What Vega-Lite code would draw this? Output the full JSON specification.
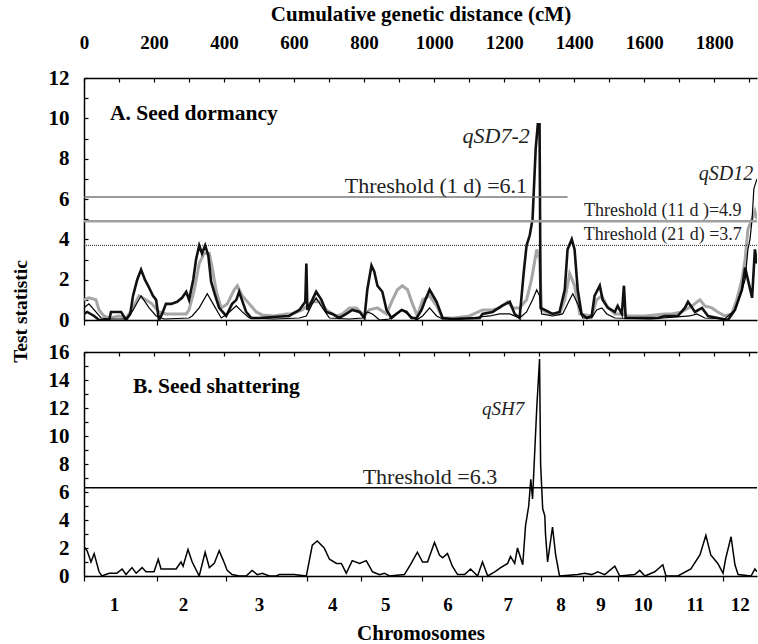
{
  "$schema": "https://vega.github.io/schema/vega-lite/v6.json",
  "background": "white",
  "padding": {"left": 10, "top": 3, "right": 0, "bottom": 0},
  "spacing": 32,
  "bounds": "flush",
  "config": {
    "font": "Liberation Serif",
    "view": {"stroke": null},
    "axis": {
      "grid": false, "domainColor": "black", "tickColor": "black", "labelColor": "black", "titleColor": "black",
      "labelFont": "Liberation Serif", "titleFont": "Liberation Serif", "labelFontWeight": "bold", "titleFontWeight": "bold",
      "labelFontSize": 19, "titleFontSize": 21, "domainWidth": 1.5, "tickWidth": 1.2
    }
  },
  "datasets": {
    "d1": [
      {"cm":0,"v":0.3},{"cm":9,"v":0.4},{"cm":29,"v":0.2},{"cm":43,"v":0},{"cm":72,"v":0},{"cm":77,"v":0.4},{"cm":106,"v":0.4},{"cm":120,"v":0},{"cm":132,"v":0.3},{"cm":140,"v":1.2},{"cm":152,"v":2.0},{"cm":163,"v":2.5},{"cm":174,"v":2.0},{"cm":186,"v":1.6},{"cm":197,"v":1.2},{"cm":206,"v":1.0},{"cm":214,"v":0},{"cm":223,"v":0.3},{"cm":234,"v":0.8},{"cm":249,"v":0.8},{"cm":266,"v":0.9},{"cm":280,"v":1.1},{"cm":292,"v":1.4},{"cm":300,"v":1.0},{"cm":312,"v":2.0},{"cm":320,"v":3.0},{"cm":329,"v":3.7},{"cm":337,"v":3.3},{"cm":346,"v":3.7},{"cm":355,"v":3.2},{"cm":363,"v":1.9},{"cm":375,"v":1.2},{"cm":386,"v":0.6},{"cm":406,"v":0.2},{"cm":423,"v":0.8},{"cm":435,"v":1.0},{"cm":443,"v":1.4},{"cm":455,"v":0.8},{"cm":463,"v":0.4},{"cm":478,"v":0.1},{"cm":500,"v":0.1},{"cm":540,"v":0.15},{"cm":586,"v":0.2},{"cm":595,"v":0.3},{"cm":615,"v":0.5},{"cm":632,"v":0.9},{"cm":635,"v":2.8},{"cm":638,"v":0.5},{"cm":652,"v":1.0},{"cm":663,"v":1.4},{"cm":678,"v":1.0},{"cm":692,"v":0.4},{"cm":709,"v":0.3},{"cm":729,"v":0.1},{"cm":749,"v":0.3},{"cm":766,"v":0.5},{"cm":787,"v":0.4},{"cm":801,"v":0.1},{"cm":809,"v":1.5},{"cm":821,"v":2.7},{"cm":829,"v":2.4},{"cm":838,"v":1.7},{"cm":852,"v":1.4},{"cm":864,"v":0.5},{"cm":878,"v":0.1},{"cm":892,"v":0.3},{"cm":907,"v":0.5},{"cm":921,"v":0.4},{"cm":935,"v":0.1},{"cm":950,"v":0.1},{"cm":964,"v":0.5},{"cm":975,"v":1.0},{"cm":987,"v":1.5},{"cm":1007,"v":0.9},{"cm":1024,"v":0.1},{"cm":1052,"v":0.05},{"cm":1130,"v":0.1},{"cm":1138,"v":0.3},{"cm":1167,"v":0.4},{"cm":1193,"v":0.7},{"cm":1216,"v":0.9},{"cm":1230,"v":0.3},{"cm":1244,"v":0.1},{"cm":1256,"v":2.4},{"cm":1264,"v":3.7},{"cm":1273,"v":4.2},{"cm":1281,"v":5.0},{"cm":1290,"v":8.5},{"cm":1296,"v":9.7},{"cm":1301,"v":9.7},{"cm":1304,"v":0.6},{"cm":1316,"v":0.5},{"cm":1338,"v":0.3},{"cm":1358,"v":0.4},{"cm":1373,"v":1.5},{"cm":1381,"v":3.5},{"cm":1393,"v":4.0},{"cm":1401,"v":3.5},{"cm":1410,"v":1.5},{"cm":1421,"v":0.3},{"cm":1436,"v":0.1},{"cm":1450,"v":0.2},{"cm":1458,"v":1.2},{"cm":1473,"v":1.7},{"cm":1481,"v":1.0},{"cm":1496,"v":0.6},{"cm":1516,"v":0.4},{"cm":1524,"v":0.7},{"cm":1536,"v":0.3},{"cm":1542,"v":1.7},{"cm":1547,"v":0.1},{"cm":1587,"v":0.1},{"cm":1639,"v":0.1},{"cm":1659,"v":0.2},{"cm":1696,"v":0.2},{"cm":1716,"v":0.6},{"cm":1725,"v":0.9},{"cm":1745,"v":0.4},{"cm":1765,"v":0.6},{"cm":1782,"v":0.2},{"cm":1810,"v":0.1},{"cm":1839,"v":0.0},{"cm":1859,"v":0.5},{"cm":1879,"v":1.5},{"cm":1888,"v":2.6},{"cm":1896,"v":2.0},{"cm":1908,"v":1.1},{"cm":1916,"v":3.5},{"cm":1922,"v":2.8}
    ],
    "d11": [
      {"cm":0,"v":1.0},{"cm":14,"v":1.1},{"cm":34,"v":1.0},{"cm":43,"v":0.5},{"cm":57,"v":0.2},{"cm":72,"v":0.1},{"cm":100,"v":0.2},{"cm":120,"v":0.1},{"cm":137,"v":0.5},{"cm":157,"v":1.2},{"cm":177,"v":1.0},{"cm":194,"v":0.8},{"cm":214,"v":0.4},{"cm":234,"v":0.3},{"cm":272,"v":0.3},{"cm":292,"v":0.3},{"cm":300,"v":0.5},{"cm":315,"v":1.5},{"cm":329,"v":2.8},{"cm":343,"v":3.3},{"cm":358,"v":3.3},{"cm":366,"v":2.6},{"cm":378,"v":1.4},{"cm":392,"v":0.6},{"cm":409,"v":0.8},{"cm":429,"v":1.5},{"cm":438,"v":1.7},{"cm":452,"v":1.2},{"cm":472,"v":0.8},{"cm":492,"v":0.4},{"cm":509,"v":0.25},{"cm":543,"v":0.2},{"cm":578,"v":0.3},{"cm":595,"v":0.3},{"cm":623,"v":0.5},{"cm":652,"v":0.9},{"cm":672,"v":0.9},{"cm":692,"v":0.5},{"cm":721,"v":0.2},{"cm":738,"v":0.3},{"cm":758,"v":0.6},{"cm":778,"v":0.6},{"cm":801,"v":0.2},{"cm":815,"v":0.5},{"cm":838,"v":0.6},{"cm":864,"v":0.3},{"cm":881,"v":1.0},{"cm":895,"v":1.5},{"cm":909,"v":1.7},{"cm":924,"v":1.5},{"cm":938,"v":0.8},{"cm":952,"v":0.2},{"cm":967,"v":1.0},{"cm":987,"v":1.2},{"cm":1007,"v":0.7},{"cm":1024,"v":0.1},{"cm":1058,"v":0.1},{"cm":1101,"v":0.2},{"cm":1138,"v":0.5},{"cm":1167,"v":0.5},{"cm":1187,"v":0.6},{"cm":1210,"v":0.9},{"cm":1224,"v":0.6},{"cm":1244,"v":0.6},{"cm":1264,"v":1.0},{"cm":1278,"v":2.0},{"cm":1293,"v":3.5},{"cm":1301,"v":3.0},{"cm":1307,"v":0.5},{"cm":1330,"v":0.3},{"cm":1358,"v":0.3},{"cm":1373,"v":1.0},{"cm":1387,"v":2.3},{"cm":1401,"v":1.7},{"cm":1416,"v":0.3},{"cm":1450,"v":0.2},{"cm":1464,"v":1.0},{"cm":1479,"v":1.2},{"cm":1493,"v":0.7},{"cm":1516,"v":0.3},{"cm":1536,"v":0.3},{"cm":1553,"v":0.2},{"cm":1602,"v":0.2},{"cm":1659,"v":0.3},{"cm":1679,"v":0.3},{"cm":1707,"v":0.4},{"cm":1736,"v":0.7},{"cm":1759,"v":1.0},{"cm":1773,"v":0.7},{"cm":1793,"v":0.6},{"cm":1810,"v":0.4},{"cm":1830,"v":0.2},{"cm":1850,"v":0.3},{"cm":1864,"v":1.0},{"cm":1879,"v":2.0},{"cm":1888,"v":3.0},{"cm":1896,"v":4.5},{"cm":1908,"v":5.0},{"cm":1916,"v":5.4},{"cm":1922,"v":5.0}
    ],
    "d21": [
      {"cm":0,"v":0.6},{"cm":14,"v":0.8},{"cm":34,"v":0.4},{"cm":49,"v":0.1},{"cm":72,"v":0.05},{"cm":120,"v":0.05},{"cm":137,"v":0.4},{"cm":163,"v":1.2},{"cm":186,"v":0.6},{"cm":206,"v":0.2},{"cm":229,"v":0.05},{"cm":300,"v":0.1},{"cm":309,"v":0.2},{"cm":329,"v":0.6},{"cm":352,"v":1.3},{"cm":372,"v":0.7},{"cm":392,"v":0.1},{"cm":409,"v":0.3},{"cm":435,"v":0.7},{"cm":452,"v":0.4},{"cm":472,"v":0.1},{"cm":543,"v":0.05},{"cm":615,"v":0.1},{"cm":635,"v":0.2},{"cm":652,"v":0.8},{"cm":663,"v":1.1},{"cm":681,"v":0.6},{"cm":701,"v":0.1},{"cm":758,"v":0.05},{"cm":795,"v":0.1},{"cm":809,"v":0.4},{"cm":824,"v":0.3},{"cm":844,"v":0.0},{"cm":872,"v":0.05},{"cm":881,"v":0.2},{"cm":895,"v":0.35},{"cm":909,"v":0.5},{"cm":924,"v":0.3},{"cm":950,"v":0.0},{"cm":967,"v":0.2},{"cm":987,"v":0.6},{"cm":1007,"v":0.2},{"cm":1024,"v":0.05},{"cm":1101,"v":0.1},{"cm":1159,"v":0.2},{"cm":1187,"v":0.3},{"cm":1216,"v":0.3},{"cm":1244,"v":0.1},{"cm":1264,"v":0.4},{"cm":1281,"v":1.0},{"cm":1293,"v":1.5},{"cm":1301,"v":1.2},{"cm":1307,"v":0.3},{"cm":1338,"v":0.2},{"cm":1367,"v":0.3},{"cm":1387,"v":1.0},{"cm":1396,"v":1.3},{"cm":1410,"v":0.8},{"cm":1424,"v":0.1},{"cm":1450,"v":0.1},{"cm":1464,"v":0.5},{"cm":1479,"v":0.6},{"cm":1493,"v":0.3},{"cm":1516,"v":0.1},{"cm":1616,"v":0.05},{"cm":1730,"v":0.2},{"cm":1750,"v":0.3},{"cm":1773,"v":0.1},{"cm":1830,"v":0.05},{"cm":1859,"v":0.5},{"cm":1879,"v":1.5},{"cm":1888,"v":2.0},{"cm":1896,"v":3.5},{"cm":1902,"v":4.0},{"cm":1908,"v":5.0},{"cm":1913,"v":6.5},{"cm":1922,"v":7.0}
    ],
    "sh": [
      {"cm":0,"v":2.1},{"cm":9,"v":1.8},{"cm":20,"v":1.0},{"cm":29,"v":1.6},{"cm":43,"v":0.3},{"cm":51,"v":0},{"cm":72,"v":0.2},{"cm":94,"v":0.2},{"cm":109,"v":0.5},{"cm":120,"v":0.1},{"cm":137,"v":0.6},{"cm":149,"v":0.2},{"cm":166,"v":0.6},{"cm":177,"v":0.3},{"cm":200,"v":0.3},{"cm":212,"v":1.2},{"cm":220,"v":0.5},{"cm":243,"v":0.5},{"cm":263,"v":0.5},{"cm":277,"v":1.0},{"cm":283,"v":0.7},{"cm":297,"v":1.9},{"cm":309,"v":1.0},{"cm":329,"v":0},{"cm":346,"v":1.7},{"cm":358,"v":0.6},{"cm":372,"v":0.9},{"cm":386,"v":1.8},{"cm":398,"v":1.1},{"cm":409,"v":0.4},{"cm":423,"v":0.1},{"cm":443,"v":0},{"cm":463,"v":0},{"cm":480,"v":0.4},{"cm":495,"v":0.1},{"cm":509,"v":0.2},{"cm":529,"v":0},{"cm":549,"v":0},{"cm":558,"v":0.1},{"cm":600,"v":0.1},{"cm":635,"v":0},{"cm":652,"v":2.2},{"cm":666,"v":2.5},{"cm":686,"v":2.0},{"cm":701,"v":1.2},{"cm":721,"v":0.9},{"cm":735,"v":0.9},{"cm":749,"v":0.2},{"cm":766,"v":1.1},{"cm":787,"v":0.9},{"cm":806,"v":1.1},{"cm":824,"v":0.3},{"cm":844,"v":0.1},{"cm":858,"v":0.2},{"cm":872,"v":0},{"cm":915,"v":0.1},{"cm":932,"v":0.8},{"cm":952,"v":1.7},{"cm":967,"v":1.0},{"cm":981,"v":1.0},{"cm":1001,"v":2.4},{"cm":1015,"v":1.5},{"cm":1024,"v":1.3},{"cm":1038,"v":1.6},{"cm":1052,"v":0.7},{"cm":1067,"v":0.1},{"cm":1087,"v":0.1},{"cm":1104,"v":0.5},{"cm":1124,"v":0},{"cm":1138,"v":1.0},{"cm":1153,"v":0},{"cm":1173,"v":0.3},{"cm":1190,"v":0.6},{"cm":1210,"v":0.9},{"cm":1218,"v":1.4},{"cm":1230,"v":0.9},{"cm":1238,"v":2.0},{"cm":1253,"v":0.8},{"cm":1261,"v":3.6},{"cm":1270,"v":5.0},{"cm":1276,"v":6.9},{"cm":1281,"v":5.5},{"cm":1293,"v":12},{"cm":1301,"v":15.5},{"cm":1304,"v":8},{"cm":1310,"v":4.8},{"cm":1316,"v":4.3},{"cm":1318,"v":3.0},{"cm":1324,"v":1.0},{"cm":1338,"v":3.5},{"cm":1347,"v":1.5},{"cm":1358,"v":0},{"cm":1410,"v":0.1},{"cm":1430,"v":0.2},{"cm":1450,"v":0.1},{"cm":1467,"v":0.3},{"cm":1487,"v":0.1},{"cm":1516,"v":0.7},{"cm":1530,"v":0},{"cm":1573,"v":0.1},{"cm":1587,"v":0.4},{"cm":1602,"v":0},{"cm":1630,"v":0.3},{"cm":1653,"v":0.8},{"cm":1662,"v":0},{"cm":1696,"v":0},{"cm":1733,"v":0.5},{"cm":1759,"v":1.5},{"cm":1776,"v":2.9},{"cm":1790,"v":1.5},{"cm":1810,"v":0.9},{"cm":1825,"v":0.2},{"cm":1833,"v":1.3},{"cm":1848,"v":2.8},{"cm":1859,"v":0.8},{"cm":1868,"v":0.1},{"cm":1905,"v":0},{"cm":1916,"v":0.5},{"cm":1922,"v":0.3}
    ]
  },
  "vconcat": [
    {
      "width": 673, "height": 242,
      "resolve": {"axis": {"x": "independent", "y": "independent"}},
      "layer": [
        {
          "data": {"name": "d11"},
          "mark": {"type": "line", "color": "#a6a6a6", "strokeWidth": 3, "clip": true},
          "encoding": {
            "x": {"field": "cm", "type": "quantitative", "scale": {"domain": [0, 1922], "nice": false, "zero": false},
              "axis": {"orient": "top", "values": [0,100,200,300,400,500,600,700,800,900,1000,1100,1200,1300,1400,1500,1600,1700,1800,1900],
                "labelExpr": "(datum.value % 200 == 0 && datum.value <= 1800) ? '' + datum.value : ''", "labelPadding": 30,
                "tickSize": -4, "title": "Cumulative genetic distance (cM)", "titlePadding": 9, "labelFlush": false, "labelOverlap": false}},
            "y": {"field": "v", "type": "quantitative", "scale": {"domain": [0, 12], "nice": false},
              "axis": {"values": [0,1,2,3,4,5,6,7,8,9,10,11,12], "labelExpr": "datum.value % 2 == 0 ? datum.label : ''", "tickSize": -4, "labelPadding": 19, "labelFontSize": 21,
                "title": "Test statistic", "titleFontSize": 19.5, "titleX": -64, "titleY": 233, "titleBaseline": "middle", "titleAlign": "center", "titleAngle": -90}}
          }
        },
        {
          "data": {"name": "d1"},
          "mark": {"type": "line", "color": "#111111", "strokeWidth": 2.6, "clip": true},
          "encoding": {
            "x": {"field": "cm", "type": "quantitative",
              "axis": {"orient": "bottom", "values": [0,209,406,637,791,966,1138,1304,1424,1524,1659,1825], "labels": false, "tickSize": 5, "title": null}},
            "y": {"field": "v", "type": "quantitative", "axis": null}
          }
        },
        {
          "data": {"name": "d21"},
          "mark": {"type": "line", "color": "#000000", "strokeWidth": 1.2, "clip": true},
          "encoding": {
            "x": {"field": "cm", "type": "quantitative", "axis": null},
            "y": {"field": "v", "type": "quantitative", "axis": null}
          }
        },
        {
          "data": {"values": [{"y": 6.1, "a": 0, "b": 1381}]},
          "mark": {"type": "rule", "color": "#7a7a7a", "strokeWidth": 1.5},
          "encoding": {"x": {"field": "a", "type": "quantitative", "axis": null}, "x2": {"field": "b"}, "y": {"field": "y", "type": "quantitative", "axis": null}}
        },
        {
          "data": {"values": [{"y": 4.9, "a": 0, "b": 1922}]},
          "mark": {"type": "rule", "color": "#a0a0a0", "strokeWidth": 2.5},
          "encoding": {"x": {"field": "a", "type": "quantitative", "axis": null}, "x2": {"field": "b"}, "y": {"field": "y", "type": "quantitative", "axis": null}}
        },
        {
          "data": {"values": [{"y": 3.7, "a": 0, "b": 1922}]},
          "mark": {"type": "rule", "color": "#222222", "strokeWidth": 1, "strokeDash": [1, 1]},
          "encoding": {"x": {"field": "a", "type": "quantitative", "axis": null}, "x2": {"field": "b"}, "y": {"field": "y", "type": "quantitative", "axis": null}}
        },
        {
          "data": {"values": [{"cm": 74, "v": 10.2, "t": "A. Seed dormancy"}]},
          "mark": {"type": "text", "font": "Liberation Serif", "fontWeight": "bold", "fontSize": 21.5, "align": "left", "baseline": "middle", "color": "black"},
          "encoding": {"x": {"field": "cm", "type": "quantitative", "axis": null}, "y": {"field": "v", "type": "quantitative", "axis": null}, "text": {"field": "t"}}
        },
        {
          "data": {"values": [{"cm": 1005, "v": 6.65, "t": "Threshold (1 d) =6.1"}]},
          "mark": {"type": "text", "font": "Liberation Serif", "fontSize": 22, "align": "center", "baseline": "middle", "color": "#222"},
          "encoding": {"x": {"field": "cm", "type": "quantitative", "axis": null}, "y": {"field": "v", "type": "quantitative", "axis": null}, "text": {"field": "t"}}
        },
        {
          "data": {"values": [{"cm": 1653, "v": 5.4, "t": "Threshold (11 d )=4.9"}, {"cm": 1653, "v": 4.2, "t": "Threshold (21 d) =3.7"}]},
          "mark": {"type": "text", "font": "Liberation Serif", "fontSize": 18, "align": "center", "baseline": "middle", "color": "#222"},
          "encoding": {"x": {"field": "cm", "type": "quantitative", "axis": null}, "y": {"field": "v", "type": "quantitative", "axis": null}, "text": {"field": "t"}}
        },
        {
          "data": {"values": [{"cm": 1273, "v": 9.1, "t": "qSD7-2"}]},
          "mark": {"type": "text", "font": "Liberation Serif", "fontStyle": "italic", "fontSize": 22, "align": "right", "baseline": "middle", "color": "#222"},
          "encoding": {"x": {"field": "cm", "type": "quantitative", "axis": null}, "y": {"field": "v", "type": "quantitative", "axis": null}, "text": {"field": "t"}}
        },
        {
          "data": {"values": [{"cm": 1911, "v": 7.25, "t": "qSD12"}]},
          "mark": {"type": "text", "font": "Liberation Serif", "fontStyle": "italic", "fontSize": 20, "align": "right", "baseline": "middle", "color": "#222"},
          "encoding": {"x": {"field": "cm", "type": "quantitative", "axis": null}, "y": {"field": "v", "type": "quantitative", "axis": null}, "text": {"field": "t"}}
        }
      ]
    },
    {
      "width": 673, "height": 224,
      "resolve": {"axis": {"x": "independent", "y": "independent"}},
      "layer": [
        {
          "data": {"name": "sh"},
          "mark": {"type": "line", "color": "#000000", "strokeWidth": 1.5, "clip": true},
          "encoding": {
            "x": {"field": "cm", "type": "quantitative", "scale": {"domain": [0, 1922], "nice": false, "zero": false},
              "axis": {"orient": "bottom", "values": [0,209,406,637,791,966,1138,1304,1424,1524,1659,1825,86,283,500,709,860,1038,1210,1361,1475,1596,1745,1873],
                "labelExpr": "indexof([86,283,500,709,860,1038,1210,1361,1475,1596,1745,1873], datum.value) >= 0 ? '' + (indexof([86,283,500,709,860,1038,1210,1361,1475,1596,1745,1873], datum.value) + 1) : ''",
                "tickOpacity": {"condition": {"test": "indexof([86,283,500,709,860,1038,1210,1361,1475,1596,1745,1873], datum.value) >= 0", "value": 0}, "value": 1},
                "tickSize": 5, "labelPadding": 14, "labelFlush": false, "labelOverlap": false, "title": "Chromosomes", "titlePadding": 8}},
            "y": {"field": "v", "type": "quantitative", "scale": {"domain": [0, 16], "nice": false},
              "axis": {"values": [0,1,2,3,4,5,6,7,8,9,10,11,12,13,14,15,16], "labelExpr": "datum.value % 2 == 0 ? datum.label : ''", "tickSize": -4, "labelPadding": 19, "labelFontSize": 21, "title": null}}
          }
        },
        {
          "data": {"values": [{"y": 6.3, "a": 0, "b": 1922}]},
          "mark": {"type": "rule", "color": "#000000", "strokeWidth": 1.5},
          "encoding": {
            "x": {"field": "a", "type": "quantitative",
              "axis": {"orient": "top", "values": [0,100,200,300,400,500,600,700,800,900,1000,1100,1200,1300,1400,1500,1600,1700,1800,1900], "labels": false, "tickSize": -4, "title": null}},
            "x2": {"field": "b"},
            "y": {"field": "y", "type": "quantitative", "axis": null}
          }
        },
        {
          "data": {"values": [{"cm": 140, "v": 13.5, "t": "B. Seed shattering"}]},
          "mark": {"type": "text", "font": "Liberation Serif", "fontWeight": "bold", "fontSize": 21.5, "align": "left", "baseline": "middle", "color": "black"},
          "encoding": {"x": {"field": "cm", "type": "quantitative", "axis": null}, "y": {"field": "v", "type": "quantitative", "axis": null}, "text": {"field": "t"}}
        },
        {
          "data": {"values": [{"cm": 988, "v": 7.05, "t": "Threshold =6.3"}]},
          "mark": {"type": "text", "font": "Liberation Serif", "fontSize": 22, "align": "center", "baseline": "middle", "color": "#222"},
          "encoding": {"x": {"field": "cm", "type": "quantitative", "axis": null}, "y": {"field": "v", "type": "quantitative", "axis": null}, "text": {"field": "t"}}
        },
        {
          "data": {"values": [{"cm": 1257, "v": 11.9, "t": "qSH7"}]},
          "mark": {"type": "text", "font": "Liberation Serif", "fontStyle": "italic", "fontSize": 19, "align": "right", "baseline": "middle", "color": "#222"},
          "encoding": {"x": {"field": "cm", "type": "quantitative", "axis": null}, "y": {"field": "v", "type": "quantitative", "axis": null}, "text": {"field": "t"}}
        }
      ]
    }
  ]
}
